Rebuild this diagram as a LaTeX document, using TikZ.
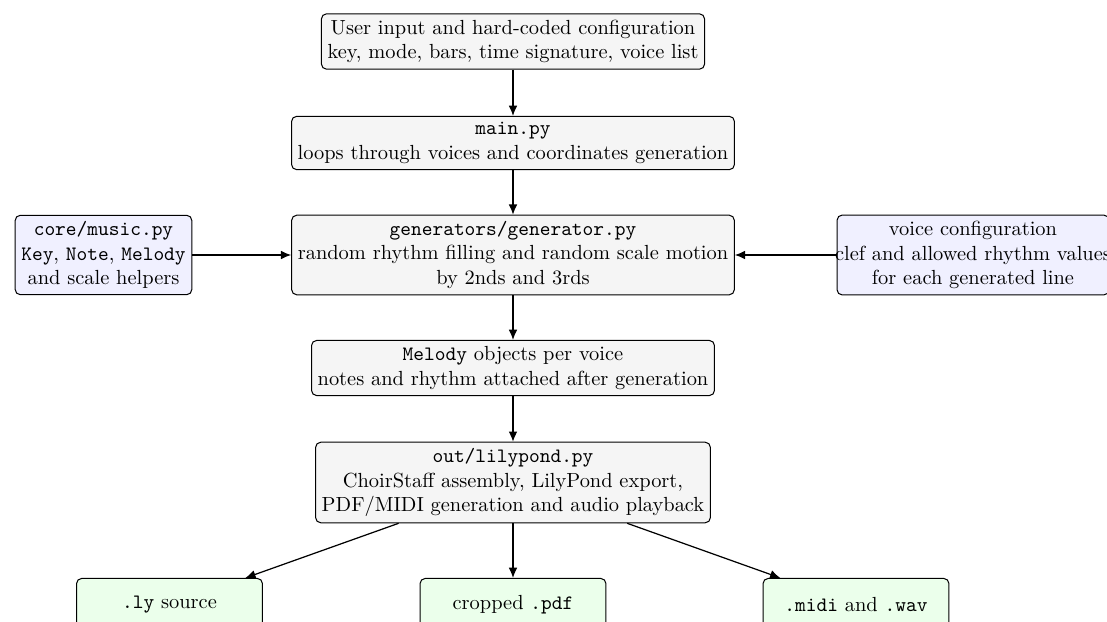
\documentclass[tikz,border=0pt]{standalone}
\usetikzlibrary{arrows.meta}
\begin{document}
\begin{tikzpicture}[x=0.4896pt,y=-0.4896pt,
  box/.style={draw, rounded corners=2.5pt, align=center, inner sep=3pt,
    line width=0.5pt, fill=gray!8},
  libbox/.style={box, fill=blue!6},
  outbox/.style={box, fill=green!8, minimum width=91pt, minimum height=26pt},
  flow/.style={-{Latex[length=5pt,width=4.3pt]}, line width=0.6pt}]
\useasboundingbox (0,0) rectangle (1107,622);
\clip (0,0) rectangle (1107,622);

% pipeline stages
\node[box] (input) at (513,41.5)
  {User input and hard-coded configuration\\key, mode, bars, time signature, voice list};
\node[box] (main) at (513,143)
  {\texttt{main.py}\\loops through voices and coordinates generation};
\node[box] (gen) at (513,255)
  {\texttt{generators/generator.py}\\random rhythm filling and random scale motion\\by 2nds and 3rds};
\node[box] (melody) at (513,368)
  {\texttt{Melody} objects per voice\\notes and rhythm attached after generation};
\node[box] (lily) at (513,482.5)
  {\texttt{out/lilypond.py}\\ChoirStaff assembly, LilyPond export,\\PDF/MIDI generation and audio playback};

% side inputs
\node[libbox] (music) at (103.5,255)
  {\texttt{core/music.py}\\\texttt{Key}, \texttt{Note}, \texttt{Melody}\\and scale helpers};
\node[libbox, inner xsep=-1pt] (voices) at (973,255)
  {voice configuration\\clef and allowed rhythm values\\for each generated line};

% outputs
\node[outbox] (ly) at (169.5,605) {\texttt{.ly} source};
\node[outbox] (pdf) at (513,605) {cropped \texttt{.pdf}};
\node[outbox] (midi) at (856,605) {\texttt{.midi} and \texttt{.wav}};

% connectors
\draw[flow] (input) -- (main);
\draw[flow] (main) -- (gen);
\draw[flow] (gen) -- (melody);
\draw[flow] (melody) -- (lily);
\draw[flow] (music) -- (gen);
\draw[flow] (voices) -- (gen);
\draw[flow] (lily) -- (ly);
\draw[flow] (lily) -- (pdf);
\draw[flow] (lily) -- (midi);
\end{tikzpicture}
\end{document}
